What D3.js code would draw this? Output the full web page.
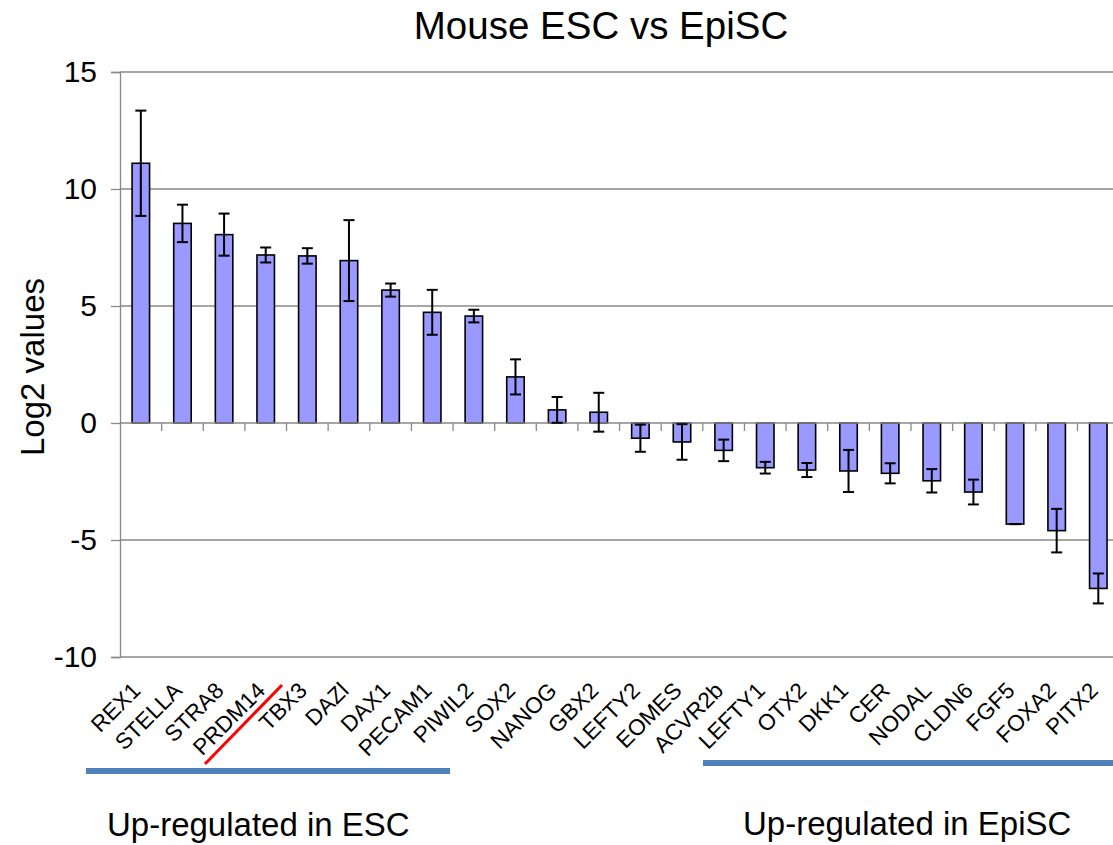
<!DOCTYPE html>
<html>
<head>
<meta charset="utf-8">
<script src="https://cdn.jsdelivr.net/npm/d3@7"></script>
<style>
  html, body { margin: 0; padding: 0; background: #fff; }
  svg { display: block; font-family: "Liberation Sans", Arial, sans-serif; }
</style>
</head>
<body>
<svg id="chart" width="1113" height="845"></svg>
<script>
// Genes, ordered from most ESC-enriched to most EpiSC-enriched
const genes = ["REX1","STELLA","STRA8","PRDM14","TBX3","DAZl","DAX1","PECAM1","PIWIL2",
  "SOX2","NANOG","GBX2","LEFTY2","EOMES","ACVR2b","LEFTY1","OTX2","DKK1","CER",
  "NODAL","CLDN6","FGF5","FOXA2","PITX2"];
// Mean log2 ratio (ESC / EpiSC)
const log2Values = [11.1, 8.53, 8.05, 7.18, 7.14, 6.94, 5.68, 4.73, 4.57,
  1.97, 0.56, 0.46, -0.65, -0.81, -1.17, -1.91, -2.01, -2.05, -2.15,
  -2.47, -2.95, -4.32, -4.6, -7.07];
// Error bar half-lengths
const errors = [2.25, 0.8, 0.9, 0.32, 0.33, 1.73, 0.28, 0.96, 0.27,
  0.75, 0.55, 0.83, 0.58, 0.76, 0.46, 0.25, 0.3, 0.9, 0.43,
  0.5, 0.53, 0.0, 0.93, 0.64];
const yTicks = [-10, -5, 0, 5, 10, 15];

const svg = d3.select("#chart");
const plotLeft = 120, plotTop = 72, plotBottom = 657;
const step = 41.63;
const plotRight = plotLeft + step * genes.length;

const x = d3.scaleBand().domain(genes).range([plotLeft, plotRight]).paddingInner(0.58).paddingOuter(0.29);
const y = d3.scaleLinear().domain([-10, 15]).range([plotBottom, plotTop]);
const gridColor = "#888888";

// Title
svg.append("text").attr("x", 601).attr("y", 39).attr("text-anchor", "middle")
  .attr("font-size", 38.5).attr("fill", "#000").text("Mouse ESC vs EpiSC");

// Horizontal gridlines (0 is the category axis, drawn later)
svg.append("g").selectAll("line").data(yTicks.filter(d => d !== 0)).join("line")
  .attr("x1", plotLeft).attr("x2", plotRight).attr("y1", d => y(d)).attr("y2", d => y(d))
  .attr("stroke", gridColor).attr("stroke-width", 1.3);

// Value axis
const yAxis = svg.append("g").attr("transform", `translate(${plotLeft},0)`)
  .call(d3.axisLeft(y).tickValues(yTicks).tickSize(9).tickPadding(14).tickFormat(d => String(d)));
yAxis.select(".domain").attr("stroke", gridColor).attr("stroke-width", 1.3);
yAxis.selectAll(".tick line").attr("stroke", gridColor).attr("stroke-width", 1.3);
yAxis.selectAll(".tick text").attr("font-size", 30).attr("fill", "#000")
  .attr("font-family", "'Liberation Sans', Arial, sans-serif");

// Value axis title
svg.append("text").attr("transform", `translate(44,367) rotate(-90)`)
  .attr("text-anchor", "middle").attr("font-size", 33).attr("fill", "#000").text("Log2 values");

// Bars
svg.append("g").selectAll("rect").data(genes).join("rect")
  .attr("x", d => x(d))
  .attr("width", x.bandwidth())
  .attr("y", (d, i) => Math.min(y(log2Values[i]), y(0)))
  .attr("height", (d, i) => Math.abs(y(log2Values[i]) - y(0)))
  .attr("fill", "#9999ff").attr("stroke", "#000").attr("stroke-width", 1.6);

// Category axis at zero with tick marks between categories
svg.append("line").attr("x1", plotLeft).attr("x2", plotRight).attr("y1", y(0)).attr("y2", y(0))
  .attr("stroke", gridColor).attr("stroke-width", 1.3);
svg.append("g").selectAll("line").data(d3.range(1, genes.length + 1)).join("line")
  .attr("x1", k => plotLeft + k * step).attr("x2", k => plotLeft + k * step)
  .attr("y1", y(0)).attr("y2", y(0) + 8)
  .attr("stroke", gridColor).attr("stroke-width", 1.3);

// Error bars
const capHalf = 5.5;
const eb = svg.append("g").attr("stroke", "#000").attr("stroke-width", 2);
genes.forEach((g, i) => {
  const cx = x(g) + x.bandwidth() / 2;
  const hi = y(log2Values[i] + errors[i]);
  const lo = y(log2Values[i] - errors[i]);
  eb.append("line").attr("x1", cx).attr("x2", cx).attr("y1", hi).attr("y2", lo);
  eb.append("line").attr("x1", cx - capHalf).attr("x2", cx + capHalf).attr("y1", hi).attr("y2", hi);
  eb.append("line").attr("x1", cx - capHalf).attr("x2", cx + capHalf).attr("y1", lo).attr("y2", lo);
});

// Slanted gene labels
svg.append("g").selectAll("text").data(genes).join("text")
  .attr("transform", d => `translate(${x(d) + x.bandwidth() / 2 + 1},692) rotate(-45)`)
  .attr("text-anchor", "end").attr("font-size", 22.5).attr("fill", "#000").text(d => d);

// Group brackets
svg.append("line").attr("x1", 86).attr("x2", 450).attr("y1", 771).attr("y2", 771)
  .attr("stroke", "#4f81bd").attr("stroke-width", 6);
svg.append("line").attr("x1", 703).attr("x2", 1113).attr("y1", 763).attr("y2", 763)
  .attr("stroke", "#4f81bd").attr("stroke-width", 6);
// Strike-through mark across the PRDM14 label
svg.append("line").attr("x1", 205).attr("y1", 764).attr("x2", 282).attr("y2", 685)
  .attr("stroke", "#ff0000").attr("stroke-width", 3);

svg.append("text").attr("x", 107).attr("y", 836).attr("font-size", 33).attr("fill", "#000")
  .text("Up-regulated in ESC");
svg.append("text").attr("x", 743).attr("y", 835).attr("font-size", 33).attr("fill", "#000")
  .text("Up-regulated in EpiSC");
</script>
</body>
</html>
